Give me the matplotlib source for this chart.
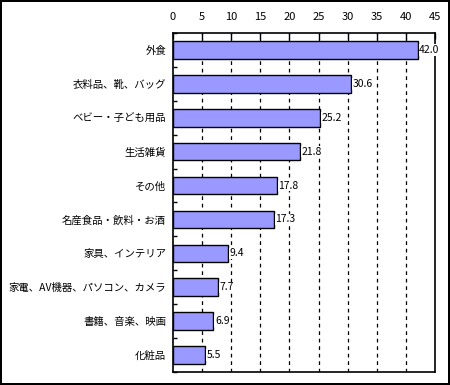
import matplotlib
matplotlib.use("Agg")
import matplotlib.pyplot as plt
import numpy as np

plt.rcParams['font.family'] = ['Noto Sans CJK JP', 'DejaVu Sans']

# data, top to bottom as in the chart
categories = ["外食", "衣料品、靴、バッグ", "ベビー・子ども用品", "生活雑貨", "その他",
              "名産食品・飲料・お酒", "家具、インテリア", "家電、AV機器、パソコン、カメラ",
              "書籍、音楽、映画", "化粧品"]
values = [42.0, 30.6, 25.2, 21.8, 17.8, 17.3, 9.4, 7.7, 6.9, 5.5]
xticks = [0, 5, 10, 15, 20, 25, 30, 35, 40, 45]

fig = plt.figure(figsize=(4.5, 3.85), dpi=100)
fig.patch.set_edgecolor("black")
fig.patch.set_linewidth(1.5)
ax = fig.add_axes([173 / 450, 1 - 372 / 385, 262 / 450, 339 / 385])

y = np.arange(len(categories))
ax.barh(y, values, height=0.52, color="#9999FF", edgecolor="black", linewidth=1, zorder=3)

for yi, v in zip(y, values):
    ax.text(v + 0.3, yi, f"{v:.1f}", va="center", ha="left", fontsize=7.5, zorder=5,
            bbox=dict(facecolor="white", edgecolor="none", pad=0.5), clip_on=False)

ax.set_xlim(0, 45)
ax.set_ylim(len(categories) - 0.5, -0.5)

# dashed vertical gridlines
for t in xticks[1:-1]:
    ax.axvline(t, color="black", linestyle=(0, (3, 3)), linewidth=0.9, zorder=1)

ax.xaxis.tick_top()
ax.set_xticks(xticks)
ax.set_xticklabels([str(t) for t in xticks], fontsize=8)
ax.tick_params(axis="x", direction="in", length=4, width=1, pad=8)

ax.set_yticks(y)
ax.set_yticklabels(categories, fontsize=7.5)
ax.tick_params(axis="y", length=0, pad=5)
# small ticks at the category boundaries
ax.set_yticks(np.arange(len(categories) + 1) - 0.5, minor=True)
ax.tick_params(axis="y", which="minor", direction="in", length=3, width=1)

for s in ax.spines.values():
    s.set_linewidth(1.2)
    s.set_color("black")

fig.savefig("out.png", dpi=100)
